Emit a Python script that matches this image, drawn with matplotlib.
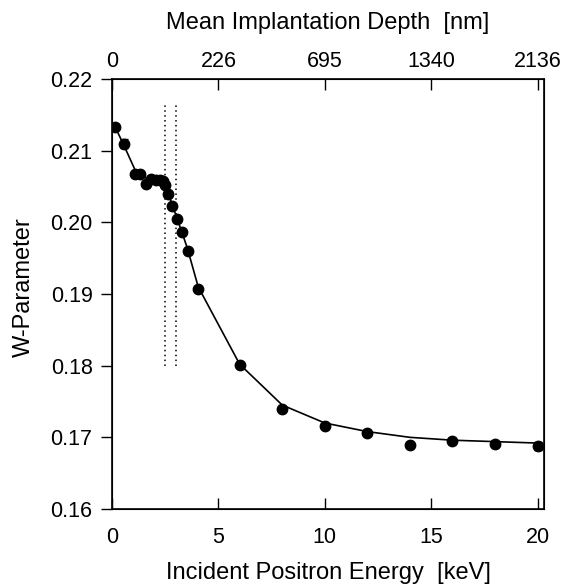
import numpy as np
import matplotlib
matplotlib.use('Agg')
from matplotlib import pyplot as plt

plt.rcParams['font.family'] = ['Liberation Sans', 'DejaVu Sans']

# measured W-parameter vs positron energy
energy = [0.15, 0.55, 1.1, 1.3, 1.6, 1.85, 2.05, 2.25, 2.4, 2.5, 2.65, 2.8, 3.05,
          3.3, 3.55, 4.05, 6.0, 8.0, 10.0, 12.0, 14.0, 16.0, 18.0, 20.0]
w_param = [0.2133, 0.2110, 0.2068, 0.2068, 0.2054, 0.2060, 0.2059, 0.2059, 0.2057,
           0.2052, 0.2040, 0.2023, 0.2005, 0.1986, 0.1960, 0.1907, 0.1801, 0.1739,
           0.1716, 0.1706, 0.1690, 0.1695, 0.1691, 0.1688]
w_err = [0.0004, 0.0006, 0.0004, 0.0004, 0.0004, 0.0004, 0.0004, 0.0004, 0.0004,
         0.0004, 0.0004, 0.0004, 0.0004, 0.0004, 0.0004, 0.0004, 0.0004, 0.0004,
         0.0004, 0.0004, 0.0004, 0.0004, 0.0004, 0.0006]

# fitted curve
fit_w = [0.2133, 0.2108, 0.2072, 0.2066, 0.2062, 0.2059, 0.2057, 0.2055, 0.2052,
         0.2048, 0.2040, 0.2027, 0.2006, 0.1985, 0.1963, 0.1910, 0.1802, 0.1745,
         0.1720, 0.1708, 0.1700, 0.1696, 0.1694, 0.1692]

# dotted markers for the interface region
interface_e = [2.5, 3.0]
interface_w = [0.180, 0.2165]

x_ticks = [0, 5, 10, 15, 20]
depth_labels = ['0', '226', '695', '1340', '2136']
y_ticks = [0.16, 0.17, 0.18, 0.19, 0.20, 0.21, 0.22]

fig = plt.figure(figsize=(5.62, 5.88), dpi=100)
ax = fig.add_axes([112/562, 1-509/588, 432/562, 430/588])

ax.plot(energy, fit_w, color='black', lw=1.2, zorder=2)
ax.errorbar(energy, w_param, yerr=w_err, fmt='o', color='black', ms=7.5,
            capsize=3, elinewidth=1, zorder=3)
for e in interface_e:
    ax.plot([e, e], interface_w, color='black', ls=(0, (1, 2.2)), lw=1.1)

ax.set_xlim(0, 20.3)
ax.set_ylim(0.16, 0.22)
ax.set_xticks(x_ticks)
ax.set_yticks(y_ticks)
ax.set_yticklabels(['%.2f' % v for v in y_ticks])

ax.tick_params(axis='x', direction='in', length=8, width=1, pad=13, labelsize=15.5)
ax.tick_params(axis='y', direction='out', length=8, width=1, pad=6, labelsize=15.5)
for s in ax.spines.values():
    s.set_linewidth(1.2)

ax.set_xlabel('Incident Positron Energy  [keV]', fontsize=17)
ax.xaxis.set_label_coords(0.5, -0.123)
ax.set_ylabel('W-Parameter', fontsize=17)
ax.yaxis.set_label_coords(-0.178, 0.516)

top = ax.twiny()
top.set_xlim(ax.get_xlim())
top.set_xticks(x_ticks)
top.set_xticklabels(depth_labels)
top.tick_params(axis='x', direction='in', length=8, width=1, pad=5, labelsize=15.5)
top.set_xlabel('Mean Implantation Depth  [nm]', fontsize=17)
top.xaxis.set_label_coords(0.5, 1.117)

fig.savefig('out.png', dpi=100)
